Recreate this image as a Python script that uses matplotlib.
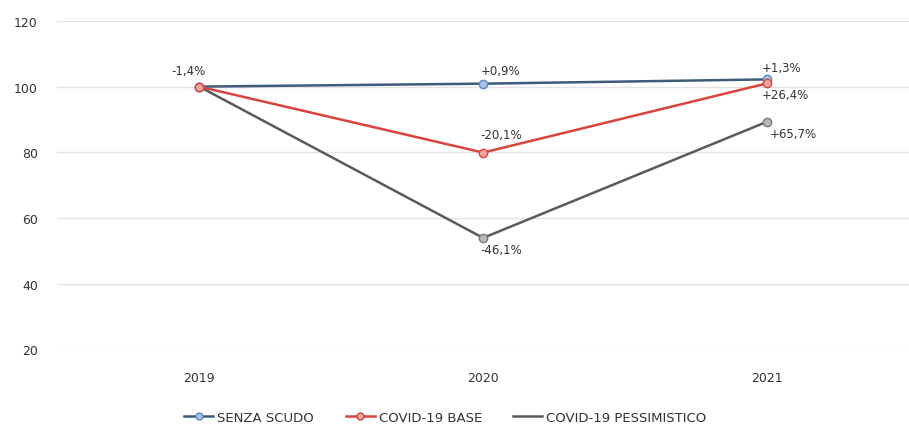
import matplotlib
matplotlib.use("Agg")
import matplotlib.pyplot as plt
from matplotlib.lines import Line2D

# Index values (2019 = 100) for the three scenarios
years = ["2019", "2020", "2021"]
senza_scudo = [100.0, 100.9, 102.2]
covid_base = [100.0, 79.9, 101.0]
covid_pess = [100.0, 53.9, 89.3]

# Year-on-year change labels
lbl_senza = ["", "+0,9%", "+1,3%"]
lbl_base = ["-1,4%", "-20,1%", "+26,4%"]
lbl_pess = ["", "-46,1%", "+65,7%"]

series_names = ["SENZA SCUDO", "COVID-19 BASE", "COVID-19 PESSIMISTICO"]
y_ticks = [20, 40, 60, 80, 100, 120]

c_blue_line = "#3f5b7a"
c_blue_mark = "#5b8cc8"
c_red = "#d9443f"
c_gray = "#5a5a5a"
txt = "#333333"

fig = plt.figure(figsize=(9.09, 4.27), dpi=100)
ax = fig.add_axes([0.063, 0.18, 0.937, 0.7685])

x = list(range(len(years)))

ax.plot(x, covid_pess, color=c_gray, lw=1.8, marker="o", ms=6,
        mfc="#b8b8b8", mec="#7a7a7a", zorder=3)
ax.plot(x, covid_base, color=c_red, lw=1.8, marker="o", ms=6,
        mfc="#f0a6a0", mec=c_red, zorder=4)
ax.plot(x, senza_scudo, color=c_blue_line, lw=1.8, marker="o", ms=6,
        mfc="#a9c3e3", mec=c_blue_mark, zorder=2)

fs = 8.5
# data labels
ax.annotate(lbl_base[0], (x[0], covid_base[0]), xytext=(-8, 7),
            textcoords="offset points", ha="center", va="bottom",
            fontsize=fs, color=txt)
ax.annotate(lbl_senza[1], (x[1], senza_scudo[1]), xytext=(-2, 5),
            textcoords="offset points", ha="left", va="bottom",
            fontsize=fs, color=txt)
ax.annotate(lbl_base[1], (x[1], covid_base[1]), xytext=(13, 8),
            textcoords="offset points", ha="center", va="bottom",
            fontsize=fs, color=txt)
ax.annotate(lbl_pess[1], (x[1], covid_pess[1]), xytext=(-2, -4),
            textcoords="offset points", ha="left", va="top",
            fontsize=fs, color=txt)
ax.annotate(lbl_senza[2], (x[2], senza_scudo[2]), xytext=(-4, 4),
            textcoords="offset points", ha="left", va="bottom",
            fontsize=fs, color=txt)
ax.annotate(lbl_base[2], (x[2], covid_base[2]), xytext=(-4, -3),
            textcoords="offset points", ha="left", va="top",
            fontsize=fs, color=txt)
ax.annotate(lbl_pess[2], (x[2], covid_pess[2]), xytext=(2, -4),
            textcoords="offset points", ha="left", va="top",
            fontsize=fs, color=txt)

ax.set_xlim(-0.5, 2.5)
ax.set_ylim(20, 120)
ax.set_yticks(y_ticks)
ax.set_yticklabels([str(v) for v in y_ticks])
ax.set_xticks(x)
ax.set_xticklabels(years)
ax.tick_params(axis="both", length=0, labelsize=9, colors=txt)
ax.tick_params(axis="x", pad=16)
ax.tick_params(axis="y", pad=14)
ax.grid(axis="y", color="#e3e3e3", lw=1)
ax.set_axisbelow(True)
for s in ax.spines.values():
    s.set_visible(False)

handles = [
    Line2D([], [], color=c_blue_line, lw=1.8, marker="o", ms=5,
           mfc="#a9c3e3", mec=c_blue_mark),
    Line2D([], [], color=c_red, lw=1.8, marker="o", ms=5,
           mfc="#f0a6a0", mec=c_red),
    Line2D([], [], color=c_gray, lw=1.8),
]
fig.legend(handles, series_names, loc="center", bbox_to_anchor=(0.49, 0.02),
           ncol=3, frameon=False, fontsize=9.5, labelcolor=txt,
           handlelength=2.2, handletextpad=0.3, columnspacing=2.4)

fig.savefig("out.png", dpi=100, facecolor="white")
